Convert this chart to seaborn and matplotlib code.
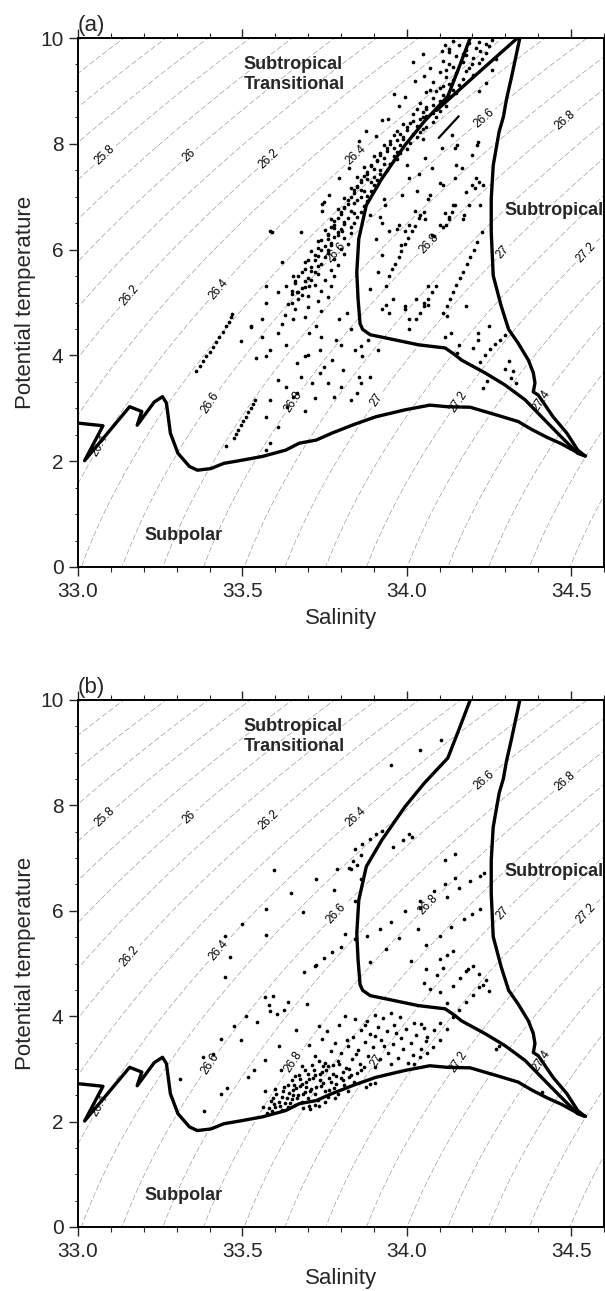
import numpy as np
import pandas as pd
import matplotlib
matplotlib.use("Agg")
import matplotlib.pyplot as plt
from matplotlib.ticker import MultipleLocator, FixedLocator, FixedFormatter
import seaborn as sns

# ---------------- data ----------------
x_ticks = [33.0, 33.5, 34.0, 34.5]
x_tick_labels = ["33.0", "33.5", "34.0", "34.5"]
y_ticks = [0, 2, 4, 6, 8, 10]
y_tick_labels = ["0", "2", "4", "6", "8", "10"]
sigma_labeled_levels = [round(25.0 + 0.2 * i, 1) for i in range(16)]
sigma_plain_levels = [round(25.1 + 0.2 * i, 1) for i in range(15)]

# boundary curves (salinity, potential temperature)
subpolar_S = [33.000, 33.076, 33.020, 33.157, 33.194, 33.180, 33.232, 33.257, 33.269, 33.281,
              33.304, 33.339, 33.363, 33.404, 33.444, 33.491, 33.561, 33.632, 33.673, 33.725,
              33.772, 33.842, 33.906, 33.994, 34.070, 34.123, 34.193, 34.275, 34.339, 34.380,
              34.427, 34.470, 34.520, 34.544]
subpolar_T = [2.72, 2.67, 2.01, 3.03, 2.94, 2.68, 3.12, 3.22, 3.10, 2.53,
              2.15, 1.90, 1.83, 1.86, 1.96, 2.01, 2.09, 2.21, 2.34, 2.40,
              2.53, 2.70, 2.84, 2.97, 3.06, 3.03, 3.02, 2.87, 2.75, 2.60,
              2.45, 2.33, 2.16, 2.10]

transition_S = [34.193, 34.160, 34.125, 34.053, 33.994, 33.924, 33.877, 33.854, 33.848, 33.852,
                33.858, 33.866, 33.889, 33.936, 34.036, 34.117, 34.147, 34.167, 34.238, 34.299,
                34.360, 34.410, 34.470, 34.520, 34.542]
transition_T = [10.0, 9.46, 8.90, 8.42, 7.97, 7.34, 6.84, 6.20, 5.57, 5.06,
                4.60, 4.49, 4.39, 4.33, 4.20, 4.14, 4.01, 3.91, 3.67, 3.44,
                3.16, 2.84, 2.46, 2.15, 2.10]

subtropical_S = [34.344, 34.319, 34.303, 34.294, 34.281, 34.263, 34.257, 34.257, 34.263, 34.287,
                 34.310, 34.339, 34.370, 34.385, 34.390, 34.385, 34.400, 34.410, 34.445, 34.487,
                 34.520, 34.542]
subtropical_T = [10.0, 9.27, 8.83, 8.51, 8.23, 7.59, 6.96, 6.33, 5.51, 4.94,
                 4.49, 4.23, 3.91, 3.67, 3.48, 3.31, 3.25, 3.16, 2.84, 2.53,
                 2.21, 2.10]

# panel (a) only
diag_S = [34.335, 34.210, 34.090]
diag_T = [9.99, 9.30, 8.63]
short_S = [34.158, 34.097]
short_T = [8.52, 8.11]

# contour label anchors: (sigma level, temperature)
label_anchor_level = [25.8, 26.0, 26.2, 26.4, 26.6, 26.8,
                      26.2, 26.4, 26.6, 26.8, 27.0, 27.2,
                      26.6, 26.8, 27.0, 27.2, 27.4, 26.4]
label_anchor_T = [7.78, 7.78, 7.72, 7.78, 8.48, 8.45,
                  5.13, 5.25, 5.95, 6.12, 5.95, 5.95,
                  3.10, 3.13, 3.16, 3.13, 3.15, 2.30]

# scatter points, panel (a)
a_band = [
    (34.14, 9.95), (34.22, 9.93), (34.26, 9.97), (34.16, 9.86), (34.21, 9.82),
    (34.13, 9.74), (34.18, 9.77), (34.24, 9.72), (34.15, 9.66), (34.20, 9.63),
    (34.11, 9.57), (34.17, 9.54), (34.22, 9.52), (34.14, 9.46), (34.19, 9.43),
    (34.10, 9.36), (34.15, 9.33), (34.20, 9.31), (34.12, 9.27), (34.17, 9.22),
    (34.08, 9.16), (34.13, 9.13), (34.16, 9.11), (34.10, 9.06), (34.14, 9.02),
    (34.06, 8.97), (34.11, 8.93), (34.15, 8.96), (34.08, 8.86), (34.12, 8.82),
    (34.04, 8.77), (34.08, 8.73), (34.12, 8.71), (34.06, 8.66), (34.10, 8.62),
    (34.02, 8.57), (34.06, 8.53), (34.09, 8.51), (34.04, 8.46), (34.08, 8.42),
    (33.99, 8.37), (34.03, 8.33), (34.06, 8.31), (34.00, 8.27), (34.04, 8.22),
    (33.96, 8.17), (33.99, 8.13), (34.03, 8.12), (33.97, 8.07), (34.01, 8.02),
    (33.93, 7.97), (33.96, 7.93), (34.00, 7.91), (33.94, 7.87), (33.98, 7.82),
    (33.90, 7.77), (33.93, 7.73), (33.97, 7.71), (33.91, 7.67), (33.95, 7.62),
    (33.87, 7.57), (33.90, 7.53), (33.94, 7.51), (33.88, 7.47), (33.92, 7.42),
    (33.85, 7.37), (33.88, 7.33), (33.91, 7.31), (33.86, 7.27), (33.90, 7.22),
    (33.83, 7.17), (33.86, 7.13), (33.89, 7.11), (33.84, 7.07), (33.88, 7.02),
    (33.81, 6.97), (33.85, 6.93), (33.88, 6.91), (33.82, 6.87), (33.87, 6.82),
    (33.79, 6.77), (33.83, 6.73), (33.86, 6.71), (33.80, 6.67), (33.85, 6.62),
    (33.77, 6.57), (33.81, 6.53), (33.84, 6.51), (33.78, 6.47), (33.83, 6.42),
    (33.75, 6.37), (33.79, 6.33), (33.83, 6.31), (33.76, 6.27), (33.81, 6.22),
    (33.73, 6.17), (33.77, 6.13), (33.82, 6.11), (33.75, 6.07), (33.80, 6.02),
    (33.71, 5.97), (33.76, 5.93), (33.81, 5.91), (33.73, 5.87), (33.78, 5.82),
    (33.69, 5.77), (33.74, 5.73), (33.79, 5.71), (33.71, 5.67), (33.77, 5.62),
    (33.68, 5.57), (33.73, 5.53), (33.78, 5.51), (33.70, 5.47), (33.75, 5.42),
    (33.66, 5.37), (33.72, 5.33), (33.77, 5.31), (33.68, 5.27), (33.74, 5.22),
    (33.65, 5.17), (33.70, 5.13), (33.76, 5.11), (33.67, 5.07), (33.73, 5.02),
    (33.64, 4.97), (33.70, 4.92), (33.66, 4.87), (33.74, 4.83), (33.63, 4.77),
    (33.69, 4.72), (34.18, 9.68), (34.12, 9.40), (34.09, 8.99), (34.05, 8.60),
    (34.01, 8.40), (33.98, 8.19), (33.95, 7.99), (33.92, 7.79), (33.89, 7.60),
    (33.87, 7.40), (33.85, 7.21), (33.83, 7.00), (33.81, 6.81), (33.79, 6.60),
    (33.78, 6.40), (33.76, 6.20), (33.74, 6.00), (33.72, 5.80), (33.71, 5.60),
    (33.69, 5.40), (33.67, 5.20), (33.65, 5.00),
    (34.19, 9.90), (34.24, 9.88), (34.17, 9.70), (34.23, 9.60), (34.13, 9.50),
    (34.18, 9.38), (34.14, 9.20), (34.11, 9.10), (34.07, 9.02), (34.13, 8.90),
    (34.10, 8.80), (34.06, 8.70), (34.03, 8.65), (34.08, 8.58), (34.05, 8.50),
    (34.02, 8.43), (34.00, 8.32), (34.05, 8.28), (33.97, 8.24), (34.02, 8.18),
    (33.99, 8.09), (33.95, 8.05), (33.98, 7.98), (33.94, 7.92), (33.97, 7.85),
    (33.92, 7.83), (33.96, 7.77), (33.91, 7.70), (33.93, 7.62), (33.89, 7.58),
    (33.92, 7.50), (33.88, 7.43), (33.90, 7.37), (33.86, 7.32), (33.89, 7.28),
    (33.85, 7.19), (33.87, 7.10), (33.84, 7.12), (33.86, 7.00), (33.82, 6.93),
    (33.84, 6.88), (33.81, 6.79), (33.84, 6.70), (33.80, 6.72), (33.82, 6.60),
    (33.78, 6.55), (33.81, 6.48), (33.77, 6.43), (33.80, 6.38), (33.76, 6.30),
    (33.78, 6.23), (33.74, 6.19), (33.77, 6.09), (33.73, 6.03), (33.76, 5.99),
    (33.72, 5.90), (33.75, 5.86), (33.70, 5.80), (33.73, 5.69), (33.69, 5.63),
    (33.72, 5.58), (33.67, 5.50), (33.71, 5.43), (33.66, 5.40), (33.69, 5.30),
    (33.65, 5.22), (33.68, 5.15),
]
a_scatter = [
    (33.994, 8.88), (33.976, 8.71), (34.026, 9.18), (34.052, 9.29), (34.072, 9.43),
    (34.117, 9.87), (34.106, 9.75), (34.130, 9.80), (34.197, 9.50), (34.223, 9.75),
    (34.258, 9.40), (33.943, 8.46), (33.924, 8.45), (33.906, 8.15), (34.147, 7.92),
    (34.106, 7.92), (34.137, 8.17), (34.056, 7.73), (34.076, 7.54), (34.036, 7.42),
    (34.006, 7.35), (33.985, 7.04), (34.030, 7.11), (34.072, 7.04), (34.147, 7.35),
    (34.197, 7.79), (34.213, 7.98), (34.167, 7.54), (34.208, 7.16), (34.233, 7.23),
    (34.188, 6.85), (34.142, 6.85), (34.117, 6.69), (34.130, 6.62), (34.102, 6.47),
    (34.110, 6.42), (34.076, 6.28), (34.083, 6.25), (34.056, 6.57), (34.026, 6.73),
    (33.976, 6.47), (33.996, 6.35), (33.945, 6.35), (33.924, 6.50), (33.920, 6.62),
    (33.935, 6.85), (33.930, 6.95), (33.742, 6.87), (33.803, 6.35), (33.790, 6.28),
    (33.855, 8.05), (33.875, 8.24), (33.824, 7.54), (33.794, 7.35), (33.764, 7.04),
    (33.742, 6.73), (33.960, 8.95), (34.020, 9.55), (34.050, 9.70), (34.270, 9.60),
    (34.240, 9.15), (34.250, 9.85), (34.220, 9.00), (34.050, 8.10), (34.000, 7.60),
    (34.100, 7.25), (34.150, 7.60), (33.678, 6.33), (33.583, 6.36), (33.590, 6.33),
    (33.749, 6.90), (33.620, 5.76), (33.573, 5.32), (33.608, 5.19), (33.655, 5.51),
    (33.468, 4.78), (33.526, 4.53), (33.573, 5.00), (33.632, 5.32), (33.667, 5.19),
    (33.702, 5.32), (33.889, 6.65), (33.906, 6.20), (33.924, 5.89), (33.912, 5.57),
    (33.936, 5.32), (33.889, 5.25), (33.959, 5.06), (33.924, 4.87), (33.994, 4.87),
    (34.029, 5.06), (34.053, 5.00), (34.006, 4.68), (34.064, 5.32), (33.982, 6.08),
    (33.971, 6.39), (34.006, 6.46), (34.053, 6.71), (34.064, 6.96), (34.111, 7.22),
    (34.146, 6.84), (34.137, 6.71), (34.129, 6.58), (34.120, 6.46), (34.170, 6.58),
    (34.222, 6.84), (34.199, 7.22), (34.210, 7.35), (34.152, 7.97), (34.216, 8.04),
    (34.175, 6.65), (34.180, 7.09), (34.220, 7.28),
    (33.947, 5.51), (33.956, 5.63), (33.963, 5.72), (33.975, 5.86), (33.984, 5.97),
    (33.996, 6.11), (34.004, 6.21), (34.016, 6.35), (34.024, 6.45), (34.036, 6.59),
    (34.041, 6.66),
    (34.111, 4.81), (34.121, 4.94), (34.131, 5.07), (34.141, 5.20), (34.151, 5.33),
    (34.162, 5.46), (34.171, 5.58), (34.182, 5.72), (34.193, 5.86), (34.204, 6.00),
    (34.215, 6.15), (34.228, 6.33),
    (34.029, 4.68), (34.041, 4.81), (34.053, 4.94), (34.064, 5.06), (34.076, 5.19),
    (34.088, 5.32),
    (33.360, 3.70), (33.370, 3.80), (33.380, 3.89), (33.390, 3.98), (33.400, 4.07),
    (33.410, 4.16), (33.420, 4.26), (33.430, 4.35), (33.440, 4.45), (33.450, 4.55),
    (33.460, 4.64), (33.465, 4.72),
    (33.474, 2.43), (33.481, 2.51), (33.488, 2.59), (33.496, 2.68), (33.503, 2.76),
    (33.510, 2.84), (33.518, 2.93), (33.526, 3.01), (33.533, 3.09), (33.538, 3.16),
    (33.450, 2.28), (33.497, 4.27), (33.526, 4.55), (33.561, 4.68), (33.573, 3.98),
    (33.585, 4.11), (33.608, 4.42), (33.632, 4.20), (33.655, 4.68), (33.667, 3.86),
    (33.690, 3.98), (33.702, 4.42), (33.725, 4.55), (33.737, 4.11), (33.749, 3.79),
    (33.760, 3.48), (33.772, 3.92), (33.784, 4.30), (33.795, 4.68), (33.807, 3.73),
    (33.819, 4.80), (33.830, 4.49), (33.842, 4.11), (33.854, 3.60), (33.865, 3.98),
    (33.608, 3.54), (33.632, 3.41), (33.655, 3.22), (33.678, 3.60), (33.585, 3.16),
    (33.573, 2.84), (33.585, 2.34), (33.573, 2.21), (33.608, 2.65), (33.637, 3.03),
    (33.667, 3.29), (33.713, 3.48), (33.737, 3.67), (33.778, 3.22), (33.801, 3.41),
    (33.830, 3.16), (33.848, 3.29), (33.860, 3.48), (33.889, 3.60), (33.912, 4.11),
    (33.883, 4.30), (33.860, 4.17), (33.540, 3.95), (33.560, 4.35), (33.620, 4.60),
    (33.700, 4.00), (33.720, 3.20), (33.690, 2.95), (33.800, 4.20), (33.740, 4.35),
    (33.936, 4.96), (33.994, 4.93), (34.064, 4.96), (33.947, 4.80), (34.006, 4.49),
    (34.123, 4.74), (34.135, 4.42), (34.181, 4.93), (34.152, 4.05), (34.216, 4.42),
    (34.251, 4.55), (34.117, 4.35), (34.158, 4.20), (34.203, 4.14), (34.218, 4.29),
    (34.223, 3.88), (34.238, 4.00), (34.253, 4.12), (34.268, 4.21), (34.284, 4.30),
    (34.299, 4.39), (34.233, 3.38), (34.245, 3.52), (34.318, 3.57), (34.322, 3.70),
    (34.333, 3.48), (34.300, 3.75), (34.310, 3.90),
]

# scatter points, panel (b)
b_scatter = [
    (34.105, 9.25), (34.041, 9.06), (33.953, 8.76), (33.924, 7.51), (33.906, 7.45),
    (33.889, 7.37), (33.865, 7.27), (34.006, 7.45), (33.988, 7.35), (33.959, 7.22),
    (34.015, 7.40), (33.842, 7.17), (33.860, 7.05), (33.836, 6.95), (33.825, 6.81),
    (33.830, 6.80), (33.850, 6.86), (33.789, 6.79), (33.860, 6.60), (33.725, 6.60),
    (33.596, 6.77), (33.778, 6.39), (33.649, 6.33), (33.842, 6.19), (33.684, 5.98),
    (33.573, 6.03), (33.500, 5.75), (33.448, 5.52), (33.573, 5.54), (33.462, 5.12),
    (33.813, 5.56), (33.842, 5.46), (33.880, 5.52), (33.918, 5.65), (33.953, 5.79),
    (33.994, 5.99), (34.041, 6.19), (34.041, 6.06), (34.082, 6.38), (34.117, 6.51),
    (34.158, 6.43), (34.123, 6.27), (34.146, 6.62), (34.193, 6.57), (34.222, 6.66),
    (34.234, 6.71), (34.117, 6.97), (34.146, 7.08), (34.222, 6.03), (34.199, 5.94),
    (34.175, 5.84), (34.135, 5.70), (34.100, 5.52), (34.058, 5.35), (34.012, 5.05),
    (33.977, 5.49), (33.936, 5.27), (33.889, 5.02), (33.801, 5.31), (33.772, 5.21),
    (33.749, 5.11), (33.725, 4.98), (34.140, 5.24), (34.123, 5.17), (34.100, 5.08),
    (34.058, 4.89), (34.187, 4.89), (34.035, 5.66),
    (33.446, 4.74), (33.475, 3.82), (33.434, 3.57), (33.410, 3.29), (33.382, 2.21),
    (33.311, 2.81), (33.434, 2.53), (33.452, 2.64), (33.380, 3.22), (33.510, 4.01),
    (33.497, 3.55), (33.534, 2.97), (33.516, 2.84), (33.546, 3.89), (33.569, 4.36),
    (33.593, 4.39), (33.580, 4.22), (33.604, 4.05), (33.585, 4.10), (33.628, 4.11),
    (33.640, 4.27), (33.663, 3.73), (33.686, 4.84), (33.721, 4.96), (33.698, 4.24),
    (33.610, 3.44), (33.569, 3.16), (33.616, 2.97), (33.569, 2.59), (33.587, 2.40),
    (33.563, 2.28), (33.575, 2.16), (33.590, 2.20), (33.600, 2.28), (33.620, 2.22),
    (33.630, 2.35), (33.640, 2.27), (33.650, 2.42), (33.660, 2.32), (33.670, 2.50),
    (33.680, 2.38), (33.690, 2.57), (33.700, 2.45), (33.702, 2.29), (33.710, 2.62),
    (33.720, 2.52), (33.730, 2.41), (33.740, 2.68), (33.750, 2.58), (33.760, 2.47),
    (33.770, 2.75), (33.780, 2.63), (33.790, 2.53), (33.800, 2.82), (33.810, 2.70),
    (33.820, 2.59), (33.830, 2.88), (33.840, 2.76), (33.622, 2.46), (33.641, 2.55),
    (33.662, 2.63), (33.681, 2.72), (33.703, 2.80), (33.722, 2.88), (33.742, 2.95),
    (33.761, 3.05), (33.603, 2.52), (33.628, 2.66), (33.652, 2.78), (33.673, 2.88),
    (33.691, 2.98), (33.712, 3.08), (33.733, 3.15), (33.683, 2.25), (33.722, 2.32),
    (33.752, 2.38), (33.781, 2.45), (33.612, 2.38), (33.655, 2.50), (33.695, 2.65),
    (33.735, 2.78), (33.775, 2.90), (33.815, 3.02), (33.706, 2.24), (33.733, 2.29),
    (33.876, 2.66), (33.889, 2.71), (33.902, 2.74),
    (33.645, 2.36), (33.665, 2.44), (33.685, 2.52), (33.705, 2.58), (33.725, 2.66),
    (33.745, 2.74), (33.765, 2.82), (33.785, 2.86), (33.805, 2.94), (33.825, 3.00),
    (33.615, 2.30), (33.635, 2.44), (33.655, 2.60), (33.675, 2.68), (33.695, 2.76),
    (33.715, 2.82), (33.735, 2.90), (33.755, 2.98), (33.775, 3.08), (33.795, 3.10),
    (33.658, 2.70), (33.676, 2.80), (33.700, 2.90), (33.718, 2.98), (33.745, 3.05),
    (33.765, 2.60), (33.785, 2.72), (33.805, 2.78), (33.825, 2.85), (33.848, 2.92),
    (33.862, 2.98), (33.870, 3.04), (33.596, 2.34), (33.580, 2.26), (33.625, 2.58),
    (33.600, 2.62), (33.592, 2.44), (33.640, 2.70), (33.660, 2.86), (33.680, 3.05),
    (33.801, 3.31), (33.822, 3.44), (33.838, 3.61), (33.862, 3.74), (33.878, 3.91),
    (33.903, 4.03), (33.832, 3.19), (33.851, 3.36), (33.873, 3.51), (33.888, 3.67),
    (33.913, 3.79), (33.928, 3.96), (33.952, 4.07), (33.858, 3.10), (33.883, 3.24),
    (33.897, 3.41), (33.922, 3.54), (33.941, 3.71), (33.962, 3.84), (33.978, 3.99),
    (33.903, 3.04), (33.918, 3.19), (33.944, 3.31), (33.958, 3.47), (33.983, 3.59),
    (33.997, 3.76), (34.021, 3.88), (33.953, 3.09), (33.972, 3.21), (33.988, 3.37),
    (34.013, 3.49), (34.028, 3.65), (34.052, 3.77), (34.004, 3.11), (34.018, 3.26),
    (34.043, 3.37), (34.058, 3.53), (33.782, 3.49), (33.757, 3.71), (33.793, 3.84),
    (33.811, 4.01), (33.843, 3.94), (33.771, 3.34), (33.742, 3.56), (33.732, 3.81),
    (33.722, 3.24), (33.703, 3.46), (33.752, 3.12), (33.792, 3.15), (33.932, 3.43),
    (33.968, 3.68), (33.874, 3.83), (33.902, 3.63), (33.818, 3.55), (33.846, 3.28),
    (34.021, 3.10), (34.040, 3.22), (34.062, 3.30), (34.081, 3.42), (34.100, 3.55),
    (34.062, 3.60), (34.083, 3.74), (34.042, 3.86), (34.102, 3.88), (34.121, 3.75),
    (34.142, 3.98), (34.160, 4.12), (34.180, 4.26), (34.201, 4.40), (34.221, 4.55),
    (34.242, 4.68), (34.122, 4.25), (34.101, 4.45), (34.141, 4.58), (34.161, 4.72),
    (34.181, 4.86), (34.071, 4.52), (34.052, 4.63), (34.092, 4.78), (34.111, 4.92),
    (34.202, 4.96), (34.221, 4.80), (34.232, 4.60), (34.250, 4.48), (34.270, 3.38),
    (34.281, 3.44), (34.412, 2.56),
]

# text annotations (salinity, temperature)
region_labels = ["Subtropical\nTransitional", "Subtropical", "Subpolar"]
region_S = [33.503, 34.298, 33.201]
region_T = [9.31, 6.74, 0.60]
panel_tags = ["(a)", "(b)"]


# ---------------- helpers ----------------
def sigma0(S, T):
    rw = (999.842594 + 6.793952e-2 * T - 9.095290e-3 * T**2 + 1.001685e-4 * T**3
          - 1.120083e-6 * T**4 + 6.536332e-9 * T**5)
    A = 8.24493e-1 - 4.0899e-3 * T + 7.6438e-5 * T**2 - 8.2467e-7 * T**3 + 5.3875e-9 * T**4
    B = -5.72466e-3 + 1.0227e-4 * T - 1.6546e-6 * T**2
    C = 4.8314e-4
    return rw + A * S + B * S**1.5 + C * S**2 - 1000.0


def salinity_on_level(level, T):
    sg = np.linspace(32.0, 35.5, 4001)
    return float(np.interp(level, sigma0(sg, T), sg))


sns.set_style("ticks")
plt.rcParams["font.family"] = ["Liberation Sans", "DejaVu Sans"]
plt.rcParams["lines.scale_dashes"] = False
plt.rcParams["lines.dashed_pattern"] = [4.0, 1.8]

fig = plt.figure(figsize=(6.05, 12.91), dpi=100)
W, H = 605.0, 1291.0
ax_a = fig.add_axes([78 / W, 1 - 567 / H, 526 / W, 529 / H])
ax_b = fig.add_axes([78 / W, 1 - 1227 / H, 526 / W, 527 / H])

Sg, Tg = np.meshgrid(np.linspace(32.9, 34.7, 400), np.linspace(-0.3, 10.3, 400))
SIG = sigma0(Sg, Tg)


def draw_panel(ax, points, tag, extra):
    ax.contour(Sg, Tg, SIG, levels=sigma_plain_levels, colors="0.58",
               linewidths=0.45, linestyles="dashed", zorder=1)
    cs = ax.contour(Sg, Tg, SIG, levels=sigma_labeled_levels, colors="0.58",
                    linewidths=0.45, linestyles="dashed", zorder=1)
    positions = [(salinity_on_level(l, t), t) for l, t in zip(label_anchor_level, label_anchor_T)]
    ax.clabel(cs, manual=positions, inline=True, inline_spacing=2,
              fontsize=8.5, colors="black", fmt=lambda v: f"{round(v, 1):g}")

    df = pd.DataFrame(points, columns=["S", "T"])
    sns.scatterplot(data=df, x="S", y="T", ax=ax, s=7, color="black",
                    linewidth=0, zorder=2)

    curves = [(subpolar_S, subpolar_T), (transition_S, transition_T),
              (subtropical_S, subtropical_T)]
    if extra:
        curves.append((diag_S, diag_T))
    for cx, cy in curves:
        sns.lineplot(x=cx, y=cy, ax=ax, sort=False, estimator=None, color="black",
                     linewidth=2.4, zorder=3)
    if extra:
        sns.lineplot(x=short_S, y=short_T, ax=ax, sort=False, estimator=None,
                     color="black", linewidth=1.6, zorder=3)

    ax.text(region_S[0], region_T[0], region_labels[0], fontsize=13, fontweight="bold",
            ha="left", va="center", linespacing=1.2, zorder=4)
    ax.text(region_S[1], region_T[1], region_labels[1], fontsize=13, fontweight="bold",
            ha="left", va="center", zorder=4)
    ax.text(region_S[2], region_T[2], region_labels[2], fontsize=13, fontweight="bold",
            ha="left", va="center", zorder=4)
    ax.text(0.0, 1.004, tag, transform=ax.transAxes, fontsize=16, ha="left", va="bottom")

    ax.set_xlim(33.0, 34.6)
    ax.set_ylim(0, 10)
    ax.xaxis.set_major_locator(FixedLocator(x_ticks))
    ax.xaxis.set_major_formatter(FixedFormatter(x_tick_labels))
    ax.yaxis.set_major_locator(FixedLocator(y_ticks))
    ax.yaxis.set_major_formatter(FixedFormatter(y_tick_labels))
    ax.xaxis.set_minor_locator(MultipleLocator(0.1))
    ax.yaxis.set_minor_locator(MultipleLocator(0.5))
    ax.tick_params(axis="x", which="major", top=True, direction="out", length=6.5,
                   width=1.0, labelsize=15, pad=4)
    ax.tick_params(axis="x", which="minor", top=True, direction="out", length=3.5, width=0.8)
    ax.tick_params(axis="y", which="major", direction="out", length=6.5, width=1.0,
                   labelsize=15, pad=4)
    ax.tick_params(axis="y", which="minor", direction="out", length=2.5, width=0.7)
    for sp in ax.spines.values():
        sp.set_linewidth(1.4)
        sp.set_color("black")
        sp.set_visible(True)
    ax.set_xlabel("Salinity", fontsize=16, labelpad=5)
    ax.set_ylabel("Potential temperature", fontsize=16, labelpad=3)


draw_panel(ax_a, a_band + a_scatter, panel_tags[0], True)
draw_panel(ax_b, b_scatter, panel_tags[1], False)

fig.savefig("out.png", dpi=100)
